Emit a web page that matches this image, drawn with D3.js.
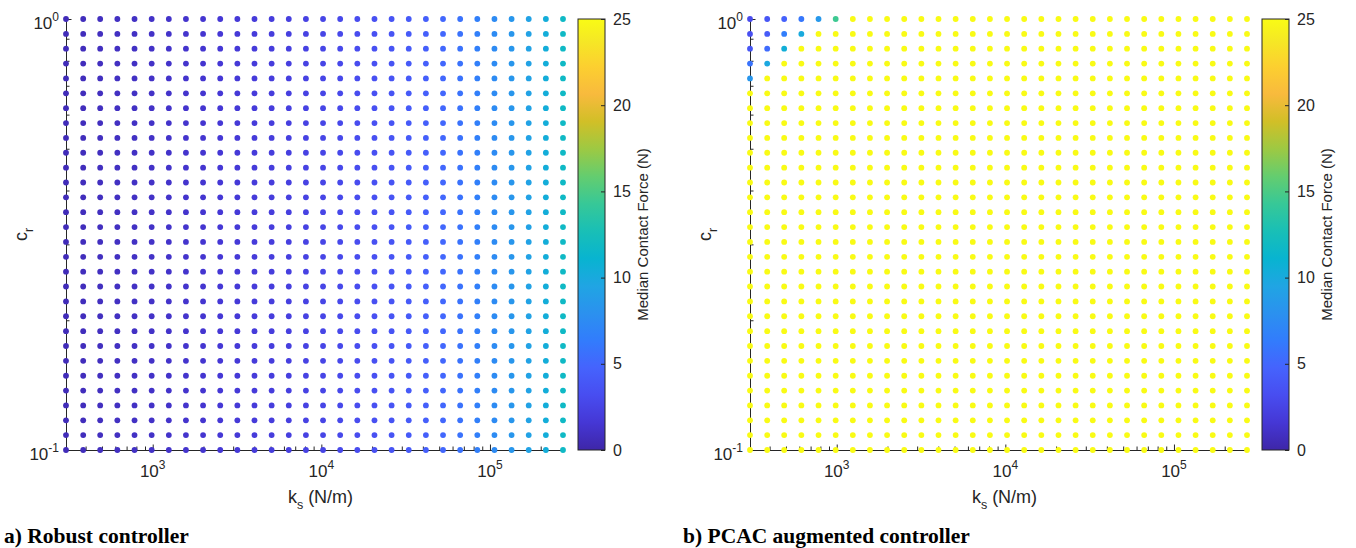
<!DOCTYPE html>
<html>
<head>
<meta charset="utf-8">
<script src="https://cdn.jsdelivr.net/npm/d3@7"></script>
<style>
  body { margin: 0; background: #fff; }
  svg { display: block; font-family: "Liberation Sans", Arial, Helvetica, sans-serif; }
</style>
</head>
<body>
<svg id="chart" width="1356" height="548"></svg>
<script>
// k_s grid (N/m), 30 log spaced columns
const ksValues = [306, 387, 488, 617, 780, 986, 1246, 1574, 1989, 2514,
  3177, 4014, 5073, 6411, 8101, 10236, 12936, 16347, 20660, 26108,
  32993, 41690, 52686, 66582, 84137, 106320, 134360, 169790, 214560, 271140];

// c_r grid, 30 log spaced rows
const crValues = [0.1, 0.1083, 0.1172, 0.1269, 0.1374, 0.1487, 0.1610, 0.1743, 0.1887, 0.2043,
  0.2212, 0.2395, 0.2593, 0.2807, 0.3039, 0.3290, 0.3562, 0.3857, 0.4175, 0.4520,
  0.4894, 0.5298, 0.5736, 0.6210, 0.6723, 0.7279, 0.7880, 0.8532, 0.9236, 1.0];

// robust controller: median contact force per k_s column (same for every c_r row)
const robustForce = [0.6, 0.7, 0.8, 0.9, 1.0, 1.1, 1.2, 1.3, 1.4, 1.6,
  1.7, 1.9, 2.0, 2.2, 2.4, 2.6, 2.8, 3.1, 3.4, 3.7,
  4.1, 4.5, 5.0, 5.7, 6.6, 7.5, 8.3, 9.3, 10.4, 11.8];

// PCAC augmented: top rows (c_r = 1 downwards), first columns; every other cell saturates
const pcacTopRows = [
  [3.0, 3.8, 4.6, 6.0, 8.5, 14.5],
  [3.3, 4.2, 6.5, 10.0],
  [3.8, 5.3, 10.5],
  [5.8, 9.8],
  [8.3]
];
const pcacPlateau = 25;

const xTickExps = [3, 4, 5];
const yTickExps = [-1, 0];
const cbarTicks = [0, 5, 10, 15, 20, 25];
const cbarMax = 25;

// parula colormap stops (index out of 64)
const parulaIdx = [0, 4, 8, 12, 16, 20, 24, 28, 32, 36, 40, 44, 48, 52, 56, 60, 63];
const parulaHex = ['#3e26a8', '#4537d5', '#484df0', '#4563fd', '#327cfc', '#2b91ef', '#20a5e3',
  '#08b4d0', '#19bfb6', '#37c897', '#64cd6f', '#9dc943', '#d1bf27', '#f8ba3d', '#fccf30',
  '#f5e924', '#f9fb15'];

const color = d3.scaleLinear()
  .domain(parulaIdx.map(i => i / 63 * cbarMax))
  .range(parulaHex)
  .clamp(true);

// build grids
const robustGrid = [];
crValues.forEach((cr, r) => ksValues.forEach((ks, c) => {
  robustGrid.push({ ks: ks, cr: cr, v: robustForce[c] });
}));

const pcacGrid = [];
crValues.forEach((cr, r) => ksValues.forEach((ks, c) => {
  const fromTop = crValues.length - 1 - r;
  const row = pcacTopRows[fromTop];
  const v = row && c < row.length ? row[c] : pcacPlateau;
  pcacGrid.push({ ks: ks, cr: cr, v: v });
}));

const svg = d3.select('#chart');
const ink = '#262626';

const plotW = 497, plotTop = 19, plotBottom = 450;

function drawPanel(left, grid, caption, captionX) {
  const x = d3.scaleLog().domain([ksValues[0], ksValues[ksValues.length - 1]]).range([left, left + plotW]);
  const y = d3.scaleLog().domain([0.1, 1]).range([plotBottom, plotTop]);
  const g = svg.append('g');

  // minor ticks
  const xMinor = [];
  [2, 3, 4, 5].forEach(e => d3.range(2, 10).forEach(m => {
    const v = m * Math.pow(10, e);
    if (v >= x.domain()[0] && v <= x.domain()[1]) xMinor.push(v);
  }));
  const yMinor = d3.range(2, 10).map(m => m / 10);

  g.append('g')
    .attr('transform', `translate(0,${plotBottom})`)
    .call(d3.axisBottom(x).tickValues(xMinor).tickSize(-3.5).tickFormat(''))
    .call(a => a.select('.domain').remove())
    .selectAll('line').attr('stroke', ink);
  g.append('g')
    .attr('transform', `translate(${left},0)`)
    .call(d3.axisLeft(y).tickValues(yMinor).tickSize(-3.5).tickFormat(''))
    .call(a => a.select('.domain').remove())
    .selectAll('line').attr('stroke', ink);

  // major ticks + axis lines
  g.append('g')
    .attr('transform', `translate(0,${plotBottom})`)
    .call(d3.axisBottom(x).tickValues(xTickExps.map(e => Math.pow(10, e))).tickSize(-5.5).tickSizeOuter(0).tickFormat(''))
    .call(a => a.select('.domain').attr('stroke', ink))
    .selectAll('line').attr('stroke', ink);
  g.append('g')
    .attr('transform', `translate(${left},0)`)
    .call(d3.axisLeft(y).tickValues(yTickExps.map(e => Math.pow(10, e))).tickSize(-5.5).tickSizeOuter(0).tickFormat(''))
    .call(a => a.select('.domain').attr('stroke', ink))
    .selectAll('line').attr('stroke', ink);

  // tick labels
  xTickExps.forEach(e => {
    const t = g.append('text')
      .attr('x', x(Math.pow(10, e)))
      .attr('y', plotBottom + 27)
      .attr('text-anchor', 'middle')
      .attr('font-size', 17)
      .attr('fill', ink);
    t.append('tspan').text('10');
    t.append('tspan').attr('dy', -8).attr('font-size', 12).text(e);
  });
  yTickExps.forEach(e => {
    const t = g.append('text')
      .attr('x', left - 7)
      .attr('y', y(Math.pow(10, e)) + 10)
      .attr('text-anchor', 'end')
      .attr('font-size', 17)
      .attr('fill', ink);
    t.append('tspan').text('10');
    t.append('tspan').attr('dy', -8).attr('font-size', 12).text(e);
  });

  // points
  g.append('g').selectAll('circle')
    .data(grid)
    .enter().append('circle')
    .attr('cx', d => x(d.ks))
    .attr('cy', d => y(d.cr))
    .attr('r', 2.9)
    .attr('fill', d => color(d.v));

  // axis labels
  const xl = g.append('text')
    .attr('x', left + plotW / 2 + 6)
    .attr('y', plotBottom + 53)
    .attr('text-anchor', 'middle')
    .attr('font-size', 18)
    .attr('fill', ink);
  xl.append('tspan').text('k');
  xl.append('tspan').attr('dy', 6).attr('font-size', 12.5).text('s');
  xl.append('tspan').attr('dy', -6).text(' (N/m)');

  const yl = g.append('text')
    .attr('transform', `translate(${left - 39},${(plotTop + plotBottom) / 2}) rotate(-90)`)
    .attr('text-anchor', 'middle')
    .attr('font-size', 18)
    .attr('fill', ink);
  yl.append('tspan').text('c');
  yl.append('tspan').attr('dy', 6).attr('font-size', 12.5).text('r');

  // colorbar
  const cbX = left + plotW + 15, cbW = 27;
  const gradId = 'parula' + left;
  const grad = svg.append('defs').append('linearGradient')
    .attr('id', gradId).attr('x1', 0).attr('y1', 1).attr('x2', 0).attr('y2', 0);
  parulaIdx.forEach((i, k) => grad.append('stop')
    .attr('offset', i / 63).attr('stop-color', parulaHex[k]));

  const cy = d3.scaleLinear().domain([0, cbarMax]).range([plotBottom, plotTop]);
  g.append('rect')
    .attr('x', cbX).attr('y', plotTop)
    .attr('width', cbW).attr('height', plotBottom - plotTop)
    .attr('fill', `url(#${gradId})`)
    .attr('stroke', ink).attr('stroke-width', 1);
  g.append('g')
    .attr('transform', `translate(${cbX + cbW},0)`)
    .call(d3.axisRight(cy).tickValues(cbarTicks).tickSize(-4).tickPadding(8).tickSizeOuter(0))
    .call(a => a.select('.domain').remove())
    .call(a => a.selectAll('line').attr('stroke', ink))
    .selectAll('text')
    .attr('font-size', 16)
    .attr('font-family', '"Liberation Sans", Arial, sans-serif')
    .attr('fill', ink);

  g.append('text')
    .attr('transform', `translate(${cbX + 70},${(plotTop + plotBottom) / 2}) rotate(-90)`)
    .attr('text-anchor', 'middle')
    .attr('font-size', 15)
    .attr('fill', ink)
    .text('Median Contact Force (N)');

  // caption
  svg.append('text')
    .attr('x', captionX)
    .attr('y', 543)
    .attr('font-family', '"Liberation Serif", "Times New Roman", serif')
    .attr('font-weight', 'bold')
    .attr('font-size', 21.5)
    .attr('fill', '#000')
    .text(caption);
}

drawPanel(66, robustGrid, 'a) Robust controller', 4);
drawPanel(750, pcacGrid, 'b) PCAC augmented controller', 683);
</script>
</body>
</html>
